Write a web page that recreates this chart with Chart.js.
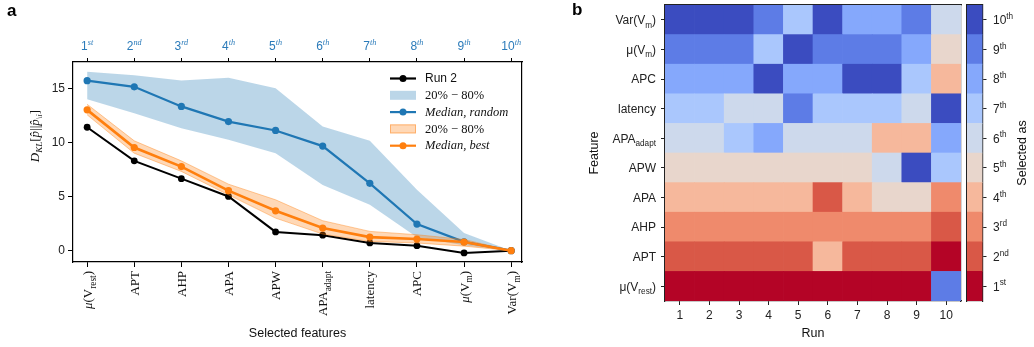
<!DOCTYPE html>
<html>
<head>
<meta charset="utf-8">
<script src="https://cdn.jsdelivr.net/npm/chart.js@4.4.0/dist/chart.umd.min.js"></script>
<style>
  body { margin: 0; background: #fff; }
  #wrap { position: relative; width: 1034px; height: 347px; overflow: hidden; }
  #wrap canvas { position: absolute; top: 0; }
</style>
</head>
<body>
<div id="wrap">
  <canvas id="klChart" width="560" height="347" style="left:0"></canvas>
  <canvas id="heatChart" width="404" height="347" style="left:560px"></canvas>
  <canvas id="rankBar" width="70" height="347" style="left:964px"></canvas>
</div>
<script>
// ---- data ----
const features = ['μ(V_{rest})', 'APT', 'AHP', 'APA', 'APW', 'APA_{adapt}', 'latency', 'APC', 'μ(V_{m})', 'Var(V_{m})'];
const rankLabels = ['1^{st}', '2^{nd}', '3^{rd}', '4^{th}', '5^{th}', '6^{th}', '7^{th}', '8^{th}', '9^{th}', '10^{th}'];
const yTicks = [0, 5, 10, 15];

const run2 = [11.45, 8.33, 6.68, 5.03, 1.74, 1.44, 0.72, 0.46, -0.21, 0];
const medianRandom = [15.77, 15.2, 13.38, 11.97, 11.15, 9.7, 6.25, 2.47, 0.82, 0];
const randomLow = [14.05, 12.75, 11.36, 10.3, 9.04, 6.1, 4.26, 1.25, 0.5, 0];
const randomHigh = [16.6, 16.28, 15.78, 16.05, 15.06, 11.52, 10.2, 5.65, 1.64, 0];
const medianBest = [13.06, 9.57, 7.8, 5.57, 3.7, 2.1, 1.26, 1.08, 0.8, 0];
const bestLow = [12.6, 9.04, 7.35, 5.18, 3.02, 1.54, 0.86, 0.71, 0.42, 0];
const bestHigh = [13.58, 10.19, 8.33, 6.17, 4.72, 2.78, 1.79, 1.48, 1.04, 0];

// rank at which each feature was selected, per run
const runs = ['1', '2', '3', '4', '5', '6', '7', '8', '9', '10'];
const rankMuVrest = [1, 1, 1, 1, 1, 1, 1, 1, 1, 9];
const rankAPT = [2, 2, 2, 2, 2, 4, 2, 2, 2, 1];
const rankAHP = [3, 3, 3, 3, 3, 3, 3, 3, 3, 2];
const rankAPA = [4, 4, 4, 4, 4, 2, 4, 5, 5, 3];
const rankAPW = [5, 5, 5, 5, 5, 5, 5, 6, 10, 7];
const rankAPAadapt = [6, 6, 7, 8, 6, 6, 6, 4, 4, 8];
const rankLatency = [7, 7, 6, 6, 9, 7, 7, 7, 6, 10];
const rankAPC = [8, 8, 8, 10, 8, 8, 10, 10, 7, 4];
const rankMuVm = [9, 9, 9, 7, 10, 9, 9, 9, 8, 5];
const rankVarVm = [10, 10, 10, 9, 7, 10, 8, 8, 9, 6];
const selectionRanks = [rankMuVrest, rankAPT, rankAHP, rankAPA, rankAPW, rankAPAadapt, rankLatency, rankAPC, rankMuVm, rankVarVm];

// ---- style ----
const SANS = '"Liberation Sans", Arial, sans-serif';
const SERIF = '"Liberation Serif", "DejaVu Serif", serif';
const BLUE = '#1f77b4', ORANGE = '#ff7f0e';
const rankColors = ['#b40426', '#d95847', '#ef8a6c', '#f6b89c', '#e8d6cc', '#cdd9ec', '#aac7fd', '#85a8fc', '#5d7ce6', '#3b4cc0'];

Chart.defaults.font.family = SANS;
Chart.defaults.color = '#222';

// text with _{sub} and ^{sup} parts
function richPieces(str, size, family, opt) {
  opt = opt || {};
  const out = [];
  const re = /([_^])\{([^}]*)\}/g;
  let last = 0, m;
  const font = (st, sz, fam) => ((st || '') + ' ' + sz + 'px ' + fam).trim();
  const pushNormal = t => {
    if (!t) return;
    if (opt.muItalic) {
      t.split(/(μ)/).forEach(s => { if (s) out.push({t: s, font: font(s === 'μ' ? 'italic' : opt.style, size, family), dy: 0}); });
    } else {
      out.push({t, font: font(opt.style, size, family), dy: 0});
    }
  };
  while ((m = re.exec(str)) !== null) {
    pushNormal(str.slice(last, m.index));
    const s = Math.round(size * (opt.scriptScale || 0.68) * 10) / 10;
    out.push({t: m[2], font: font(opt.scriptStyle || opt.style, s, opt.scriptFamily || family),
      dy: m[1] === '_' ? size * 0.3 : -size * 0.42});
    last = re.lastIndex;
  }
  pushNormal(str.slice(last));
  return out;
}

function drawRich(ctx, pieces, x, y, align, color) {
  ctx.save();
  ctx.fillStyle = color;
  ctx.textBaseline = 'alphabetic';
  ctx.textAlign = 'left';
  let w = 0;
  pieces.forEach(p => { ctx.font = p.font; p.w = ctx.measureText(p.t).width; w += p.w; });
  let cx = align === 'right' ? x - w : align === 'center' ? x - w / 2 : x;
  pieces.forEach(p => { ctx.font = p.font; ctx.fillText(p.t, cx, y + p.dy); cx += p.w; });
  ctx.restore();
  return w;
}

// ---- panel a ----
const klDecor = {
  id: 'klDecor',
  afterDraw(chart) {
    const {ctx, chartArea, scales} = chart;
    // feature names under the x axis
    features.forEach((f, i) => {
      const x = scales.x.getPixelForValue(i);
      ctx.save();
      ctx.translate(x, chartArea.bottom + 9);
      ctx.rotate(-Math.PI / 2);
      drawRich(ctx, richPieces(f, 13, SERIF, {muItalic: true, scriptScale: 0.72}), 0, 4.5, 'right', '#111');
      ctx.restore();
    });
    // rank names on top
    rankLabels.forEach((l, i) => {
      const x = scales.x2.getPixelForValue(i);
      drawRich(ctx, richPieces(l, 12, SANS, {scriptFamily: SERIF, scriptStyle: 'italic'}), x, chartArea.top - 12, 'center', '#2b7bba');
    });
    // y title
    ctx.save();
    ctx.translate(35, 136);
    ctx.rotate(-Math.PI / 2);
    drawRich(ctx, [
      {t: 'D', font: 'italic 13px ' + SERIF, dy: 0},
      {t: 'KL', font: 'italic 9px ' + SERIF, dy: 3},
      {t: '[', font: '13px ' + SERIF, dy: 0},
      {t: 'p\u0302', font: 'italic 13px ' + SERIF, dy: 0},
      {t: '||', font: '13px ' + SERIF, dy: 0},
      {t: 'p\u0302', font: 'italic 13px ' + SERIF, dy: 0},
      {t: '\\i', font: 'italic 9px ' + SERIF, dy: 3},
      {t: ']', font: '13px ' + SERIF, dy: 0}
    ], 0, 4, 'center', '#111');
    ctx.restore();
    // legend
    const lx = chartArea.right - 132, ly = chartArea.top + 16.5, step = 16.8;
    const rows = [
      {kind: 'line', color: '#000', text: 'Run 2', font: '12px ' + SANS},
      {kind: 'patch', color: 'rgba(31,119,180,0.3)', edge: null, text: '20% − 80%', font: '12.5px ' + SERIF},
      {kind: 'line', color: BLUE, text: 'Median, random', font: 'italic 12.5px ' + SERIF},
      {kind: 'patch', color: 'rgba(255,127,14,0.3)', edge: 'rgba(255,127,14,0.45)', text: '20% − 80%', font: '12.5px ' + SERIF},
      {kind: 'line', color: ORANGE, text: 'Median, best', font: 'italic 12.5px ' + SERIF}
    ];
    rows.forEach((r, k) => {
      const y = ly + k * step;
      ctx.save();
      if (r.kind === 'line') {
        ctx.strokeStyle = r.color; ctx.lineWidth = 2.2;
        ctx.beginPath(); ctx.moveTo(lx, y); ctx.lineTo(lx + 26, y); ctx.stroke();
        ctx.fillStyle = r.color;
        ctx.beginPath(); ctx.arc(lx + 13, y, 3.5, 0, Math.PI * 2); ctx.fill();
      } else {
        ctx.fillStyle = r.color;
        ctx.fillRect(lx, y - 4.5, 26, 9);
        if (r.edge) { ctx.strokeStyle = r.edge; ctx.lineWidth = 1; ctx.strokeRect(lx + 0.5, y - 4, 25, 8); }
      }
      ctx.fillStyle = '#111'; ctx.font = r.font; ctx.textBaseline = 'middle';
      ctx.fillText(r.text, lx + 35, y + 0.5);
      ctx.restore();
    });
    ctx.save();
    ctx.font = 'bold 17px ' + SANS; ctx.fillStyle = '#000';
    ctx.fillText('a', 7, 16);
    ctx.restore();
  }
};

const pts = arr => arr.map((v, i) => ({x: i, y: v}));
const xMin = -0.3, xMax = 9.23, yMin = -1.05, yMax = 17.5;
const frame = {color: '#000', width: 1.2};

new Chart(document.getElementById('klChart'), {
  type: 'line',
  data: {
    datasets: [
      {label: 'Median, best', data: pts(medianBest), borderColor: ORANGE, backgroundColor: ORANGE, borderWidth: 2.6, pointRadius: 3.6, pointBorderWidth: 0, fill: false},
      {label: '20% - 80% best', data: pts(bestHigh), borderColor: 'rgba(255,127,14,0.4)', backgroundColor: 'rgba(255,127,14,0.3)', borderWidth: 1, pointRadius: 0, fill: '+1'},
      {label: 'best low', data: pts(bestLow), borderColor: 'rgba(255,127,14,0.4)', borderWidth: 1, pointRadius: 0, fill: false},
      {label: 'Median, random', data: pts(medianRandom), borderColor: BLUE, backgroundColor: BLUE, borderWidth: 2.2, pointRadius: 3.6, pointBorderWidth: 0, fill: false},
      {label: '20% - 80% random', data: pts(randomHigh), borderColor: 'rgba(0,0,0,0)', backgroundColor: 'rgba(31,119,180,0.3)', borderWidth: 0, pointRadius: 0, fill: '+1'},
      {label: 'random low', data: pts(randomLow), borderColor: 'rgba(0,0,0,0)', borderWidth: 0, pointRadius: 0, fill: false},
      {label: 'Run 2', data: pts(run2), borderColor: '#000', backgroundColor: '#000', borderWidth: 2, pointRadius: 3.4, pointBorderWidth: 0, fill: false}
    ]
  },
  options: {
    responsive: false,
    animation: false,
    layout: {padding: {left: 0, top: 0, right: 38, bottom: 0}},
    plugins: {legend: {display: false}, tooltip: {enabled: false}},
    scales: {
      x: {
        type: 'linear', position: 'bottom', min: xMin, max: xMax,
        afterBuildTicks: s => { s.ticks = features.map((_, i) => ({value: i})); },
        ticks: {display: false},
        grid: {drawOnChartArea: false, tickLength: 5, tickColor: '#000'},
        border: frame,
        title: {display: true, text: 'Selected features', color: '#111', font: {size: 12.5}, padding: {top: 0, bottom: 6}},
        afterFit: s => { s.height = 85; }
      },
      x2: {
        type: 'linear', position: 'top', min: xMin, max: xMax,
        afterBuildTicks: s => { s.ticks = rankLabels.map((_, i) => ({value: i})); },
        ticks: {display: false},
        grid: {drawOnChartArea: false, tickLength: 4, tickColor: '#000'},
        border: frame,
        afterFit: s => { s.height = 62; }
      },
      y: {
        type: 'linear', position: 'left', min: yMin, max: yMax,
        afterBuildTicks: s => { s.ticks = yTicks.map(v => ({value: v})); },
        ticks: {font: {size: 12}, color: '#222', padding: 3, callback: v => String(v)},
        grid: {drawOnChartArea: false, tickLength: 5, tickColor: '#000'},
        border: frame,
        afterFit: s => { s.width = 73; }
      },
      y2: {
        type: 'linear', position: 'right', min: yMin, max: yMax,
        ticks: {display: false}, grid: {display: false},
        border: frame,
        afterFit: s => { s.width = 0; }
      }
    }
  },
  plugins: [klDecor]
});

// ---- panel b: heatmap ----
const heatDecor = {
  id: 'heatDecor',
  afterDraw(chart) {
    const {ctx, chartArea, scales} = chart;
    features.forEach((f, i) => {
      const y = scales.y.getPixelForValue(i + 0.5);
      drawRich(ctx, richPieces(f, 12, SANS), chartArea.left - 9, y + 4.3, 'right', '#222');
    });
    ctx.save();
    ctx.font = 'bold 17px ' + SANS; ctx.fillStyle = '#000';
    ctx.fillText('b', 12, 15);
    ctx.restore();
  }
};
const heatFrame = {color: '#222', width: 1.2};

new Chart(document.getElementById('heatChart'), {
  type: 'bar',
  data: {
    labels: runs,
    datasets: features.map((f, fi) => ({
      label: f,
      data: runs.map(() => 1),
      backgroundColor: selectionRanks[fi].map(r => rankColors[r - 1]),
      borderWidth: 0,
      barPercentage: 1,
      categoryPercentage: 1
    }))
  },
  options: {
    responsive: false,
    animation: false,
    layout: {padding: {left: 0, top: 5, right: 3, bottom: 0}},
    plugins: {legend: {display: false}, tooltip: {enabled: false}},
    scales: {
      x: {
        stacked: true, position: 'bottom',
        grid: {offset: false, drawOnChartArea: false, tickLength: 4, tickColor: '#222'},
        ticks: {font: {size: 12}, color: '#222', padding: 3, maxRotation: 0},
        border: heatFrame,
        title: {display: true, text: 'Run', color: '#111', font: {size: 12.5}, padding: {top: 0, bottom: 6}},
        afterFit: s => { s.height = 46; }
      },
      x2: {
        type: 'category', position: 'top',
        grid: {display: false}, ticks: {display: false},
        border: heatFrame,
        afterFit: s => { s.height = 0; }
      },
      y: {
        stacked: true, position: 'left', min: 0, max: 10,
        afterBuildTicks: s => { s.ticks = features.map((_, i) => ({value: i + 0.5})); },
        ticks: {display: false},
        grid: {drawOnChartArea: false, tickLength: 4, tickColor: '#222'},
        border: heatFrame,
        title: {display: true, text: 'Feature', color: '#111', font: {size: 12.5}, padding: {top: 27.5, bottom: 0}},
        afterFit: s => { s.width = 105; }
      },
      y2: {
        type: 'linear', position: 'right', min: 0, max: 10,
        grid: {display: false}, ticks: {display: false},
        border: heatFrame,
        afterFit: s => { s.width = 0; }
      }
    }
  },
  plugins: [heatDecor]
});

// ---- colour bar ----
const barDecor = {
  id: 'barDecor',
  afterDraw(chart) {
    const {ctx, chartArea, scales} = chart;
    rankLabels.forEach((l, i) => {
      const y = scales.y.getPixelForValue(i + 0.5);
      drawRich(ctx, richPieces(l, 12, SANS), chartArea.right + 10.5, y + 4.3, 'left', '#222');
    });
    ctx.save();
    ctx.translate(58.7, 153);
    ctx.rotate(-Math.PI / 2);
    ctx.font = '12.5px ' + SANS; ctx.fillStyle = '#111';
    ctx.textAlign = 'center'; ctx.textBaseline = 'middle';
    ctx.fillText('Selected as', 0, 0);
    ctx.restore();
  }
};

new Chart(document.getElementById('rankBar'), {
  type: 'bar',
  data: {
    labels: [''],
    datasets: rankLabels.map((l, i) => ({
      label: l, data: [1], backgroundColor: rankColors[i],
      borderWidth: 0, barPercentage: 1, categoryPercentage: 1
    }))
  },
  options: {
    responsive: false,
    animation: false,
    layout: {padding: {left: 3, top: 5, right: 0, bottom: 46}},
    plugins: {legend: {display: false}, tooltip: {enabled: false}},
    scales: {
      x: {stacked: true, position: 'bottom', grid: {display: false}, ticks: {display: false}, border: heatFrame, afterFit: s => { s.height = 0; }},
      x2: {type: 'category', position: 'top', grid: {display: false}, ticks: {display: false}, border: heatFrame, afterFit: s => { s.height = 0; }},
      y: {
        stacked: true, position: 'right', min: 0, max: 10,
        afterBuildTicks: s => { s.ticks = rankLabels.map((_, i) => ({value: i + 0.5})); },
        ticks: {display: false},
        grid: {drawOnChartArea: false, tickLength: 4, tickColor: '#222'},
        border: heatFrame,
        afterFit: s => { s.width = 51.5; }
      },
      y2: {type: 'linear', position: 'left', min: 0, max: 10, grid: {display: false}, ticks: {display: false}, border: heatFrame, afterFit: s => { s.width = 0; }}
    }
  },
  plugins: [barDecor]
});
</script>
</body>
</html>
